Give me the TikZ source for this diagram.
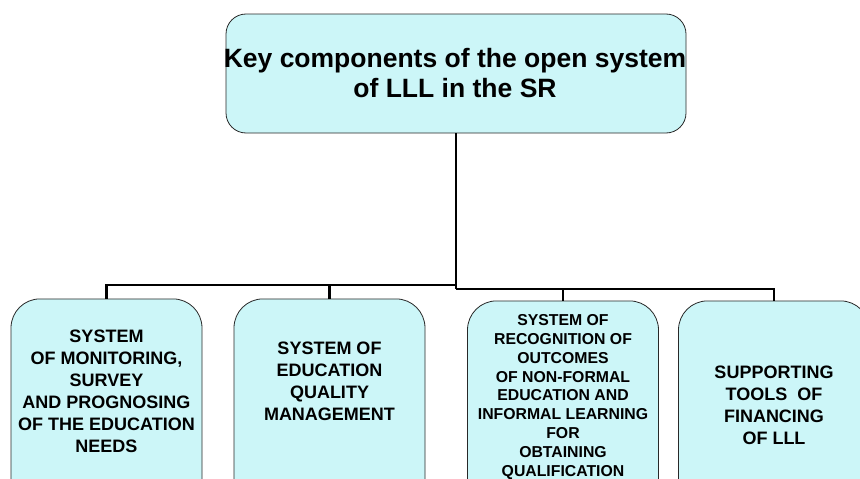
\documentclass[tikz,border=0pt]{standalone}
\usepackage{fontspec}
\setmainfont{Liberation Sans}
\definecolor{boxfill}{RGB}{204,246,248}
\definecolor{edge}{RGB}{40,40,40}
\begin{document}
\begin{tikzpicture}[x=1pt,y=-1pt,
  topbox/.style={draw=edge, line width=0.8pt, fill=boxfill, rounded corners=20pt,
    minimum width=460pt, minimum height=119pt, inner sep=0pt},
  box/.style={draw=edge, line width=0.8pt, fill=boxfill, rounded corners=29pt,
    minimum width=191pt, minimum height=260pt, anchor=north, inner sep=0pt},
  lbl/.style={font=\bfseries\fontsize{18}{22}\selectfont, align=center, inner sep=0pt},
  lblsmall/.style={font=\bfseries\fontsize{15.8}{18.9}\selectfont, align=center, inner sep=0pt},
  toplbl/.style={font=\bfseries\fontsize{26.5}{30}\selectfont, align=center, inner sep=0pt},
  conn/.style={draw=black, line width=2.8pt}]
\useasboundingbox (0,0) rectangle (860,479);
\clip (0,0) rectangle (860,479);

\node[topbox] (top) at (456,73.5) {};
\node[toplbl] (toptext) at (455,73.5) {Key components of the open system\\of LLL in the SR};

\node[box] (b1) at (106.5,298.5) {};
\node[box] (b2) at (329.5,298.5) {};
\node[box] (b3) at (563,300.5) {};
\node[box] (b4) at (774,300.5) {};

\node[lbl] (t1) at (106.5,391) {SYSTEM\\OF MONITORING,\\SURVEY\\AND PROGNOSING\\OF THE EDUCATION\\NEEDS};
\node[lbl] (t2) at (329.5,381.5) {SYSTEM OF\\EDUCATION\\QUALITY\\MANAGEMENT};
\node[lblsmall] (t3) at (563,397) {SYSTEM OF\\RECOGNITION OF\\OUTCOMES\\OF NON-FORMAL\\EDUCATION AND\\INFORMAL LEARNING\\FOR\\OBTAINING\\QUALIFICATION};
\node[lbl] (t4) at (774,405.5) {SUPPORTING\\TOOLS \ OF\\FINANCING\\OF LLL};

\coordinate (jl) at (456,285);
\coordinate (jr) at (456,289);
\draw[conn] (top.south) -- (jr);
\draw[conn] (b1.north) -- (b1.north |- jl) -- (jl) -- (jr);
\draw[conn] (b2.north) -- (b2.north |- jl);
\draw[conn] (jr) -- (jr -| b4.north) -- (b4.north);
\draw[conn] (b3.north) -- (b3.north |- jr);
\end{tikzpicture}
\end{document}
